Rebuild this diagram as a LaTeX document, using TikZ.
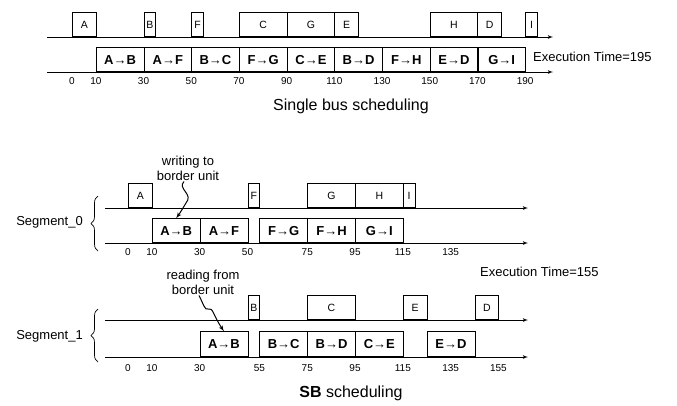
\documentclass[tikz,border=0pt]{standalone}
\usepackage{fontspec}
\setmainfont{Liberation Sans}
\usepackage{tikz}
\usetikzlibrary{arrows,shapes}
\usetikzlibrary{positioning}
\usetikzlibrary{decorations.pathreplacing}
\tikzstyle{axe}=[->,>=latex',line width=0.8pt]
\tikzstyle{task}=[draw,line width=0.7pt,anchor=south west,inner sep=0pt,
                minimum height=24pt,font=\fontsize{10.5}{12}\selectfont]
\tikzstyle{msg}=[task,minimum width=47.8pt,font=\fontsize{13}{15}\selectfont\bfseries]
\tikzstyle{ticks}=[font=\fontsize{10}{11}\selectfont]
\tikzstyle{note}=[font=\fontsize{13}{15}\selectfont,align=center,inner sep=1pt]
\tikzstyle{squig}=[->,>=latex',line width=1pt]
\tikzstyle{seg}=[decorate,decoration={brace,amplitude=7pt},line width=0.7pt]
\tikzstyle{title}=[font=\fontsize{16}{18}\selectfont]

\begin{document}
\begin{tikzpicture}[x=1pt,y=-1pt]
\useasboundingbox (0,0) rectangle (677,405);

% single bus
\coordinate (s1a) at (47,37);
\coordinate (s1b) at (553,37);
\coordinate (s2a) at (47,72);
\coordinate (s2b) at (553,72);
\draw[axe] (s1a) -- (s1b);
\draw[axe] (s2a) -- (s2b);
\foreach \n/\a/\b in {A/0/10,B/30/35,F/50/55,C/70/90,G/90/110,E/110/120,H/150/170,D/170/180,I/190/195}
  \node[task,minimum width={(\b-\a)*2.385pt}] (s\n) at ({72+2.385*\a},37) {\n};
\foreach \n/\m/\a in {A/B/10,A/F/30,B/C/50,F/G/70,C/E/90,B/D/110,F/H/130,E/D/150,G/I/170}
  \node[msg] (s\n\m) at ({72+2.385*\a},72) {\n→\m};
\foreach \t in {0,10,30,50,...,190}
  \node[ticks] (st\t) at ({72+2.385*\t},81) {\t};
\node[note,anchor=west] (sexe) at (532,57) {Execution Time=195};
\node[title] (stitle) at (351,106) {Single bus scheduling};

% SB, segment 0
\coordinate (a1a) at (105,208);
\coordinate (a1b) at (528,208);
\coordinate (a2a) at (105,243);
\coordinate (a2b) at (528,243);
\draw[axe] (a1a) -- (a1b);
\draw[axe] (a2a) -- (a2b);
\foreach \n/\a/\b in {A/0/10,F/50/55,G/75/95,H/95/115,I/115/120}
  \node[task,minimum width={(\b-\a)*2.39pt}] (a\n) at ({128+2.39*\a},208) {\n};
\foreach \n/\m/\a in {A/B/10,A/F/30,F/G/55,F/H/75,G/I/95}
  \node[msg] (a\n\m) at ({128+2.39*\a},243) {\n→\m};
\foreach \t in {0,10,30,50,75,95,115,135}
  \node[ticks] (at\t) at ({128+2.39*\t},252) {\t};
\node[note] (awr) at (188,168) {writing to\\border unit};
\draw[squig] ([xshift=-4pt]awr.south) .. controls (177,189) and (194,194) .. (186,203)
  .. controls (183,208) and (180,213) .. (aAB.north);
\draw[seg] (98,251) -- (98,196);
\node[note,anchor=east] (aseg) at (84,222) {Segment\_0};

\node[note,anchor=west] (exe) at (479,272) {Execution Time=155};

% SB, segment 1
\coordinate (b1a) at (105,320);
\coordinate (b1b) at (528,320);
\coordinate (b2a) at (105,357);
\coordinate (b2b) at (528,357);
\draw[axe] (b1a) -- (b1b);
\draw[axe] (b2a) -- (b2b);
\foreach \n/\a/\b in {B/50/55,C/75/95,E/115/125,D/145/155}
  \node[task,minimum width={(\b-\a)*2.39pt}] (b\n) at ({128+2.39*\a},320) {\n};
\foreach \n/\m/\a in {A/B/30,B/C/55,B/D/75,C/E/95,E/D/125}
  \node[msg,minimum height=25pt] (b\n\m) at ({128+2.39*\a},357) {\n→\m};
\foreach \t in {0,10,30,55,75,95,115,135,155}
  \node[ticks] (bt\t) at ({128+2.39*\t},368) {\t};
\node[note] (brd) at (203,282) {reading from\\border unit};
\draw[squig] ([xshift=-4pt]brd.south) .. controls (203,303) and (205,311) .. (208,309)
  .. controls (213,307) and (213,315) .. (bAB.north);
\draw[seg] (98,362) -- (98,309);
\node[note,anchor=east] (bseg) at (84,336) {Segment\_1};

\node[title] (title) at (351,393) {\textbf{SB} scheduling};
\end{tikzpicture}
\end{document}
